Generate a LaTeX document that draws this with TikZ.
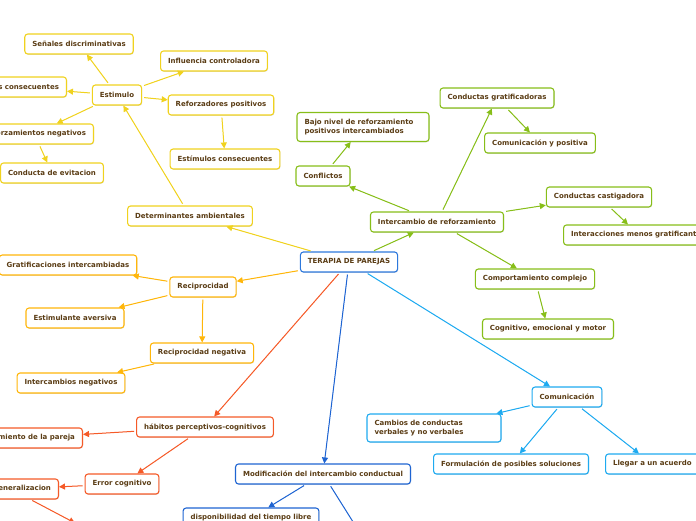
\documentclass[tikz,border=0pt]{standalone}
\usepackage{fontspec}
\setmainfont{DejaVu Sans}
\usetikzlibrary{arrows.meta,shadows}
\definecolor{txt}{RGB}{90,60,20}
\definecolor{yel}{RGB}{240,210,30}
\definecolor{org}{RGB}{255,182,10}
\definecolor{grn}{RGB}{135,190,25}
\definecolor{red}{RGB}{245,90,40}
\definecolor{dblue}{RGB}{30,100,210}
\definecolor{lblue}{RGB}{30,170,240}
\definecolor{rootb}{RGB}{45,120,220}
\tikzset{
  box/.style={draw, rounded corners=3pt, fill=white, line width=1.1pt,
    minimum height=20pt, inner xsep=7.5pt, inner ysep=2pt, text=txt,
    font=\bfseries\fontsize{7}{9}\selectfont,
    drop shadow={shadow xshift=0.6pt, shadow yshift=-0.8pt, opacity=0.25}},
  ybox/.style={box, draw=yel},
  obox/.style={box, draw=org},
  gbox/.style={box, draw=grn},
  rbox/.style={box, draw=red},
  dbox/.style={box, draw=dblue},
  lbox/.style={box, draw=lblue},
  conn/.style={line width=1pt, -{Triangle[length=6pt,width=6pt]}, shorten <=2pt},
  yarr/.style={conn, draw=yel, fill=yel},
  oarr/.style={conn, draw=org, fill=org},
  garr/.style={conn, draw=grn, fill=grn},
  rarr/.style={conn, draw=red, fill=red},
  darr/.style={conn, draw=dblue, fill=dblue},
  larr/.style={conn, draw=lblue, fill=lblue},
}
\begin{document}
\begin{tikzpicture}[x=1pt,y=-1pt]
\useasboundingbox (0,0) rectangle (696,520);
\clip (0,0) rectangle (696,520);
% root
\node[box, draw=rootb] (root) at (349,262) {TERAPIA DE PAREJAS};
% yellow branch
\node[ybox] (det) at (190,216) {Determinantes ambientales};
\node[ybox] (est) at (117,95) {Estimulo};
\node[ybox] (sen) at (79,44) {Señales discriminativas};
\node[ybox] (inf) at (214,61) {Influencia controladora};
\node[ybox, anchor=east] (scons) at (67,87) {Estímulos consecuentes};
\node[ybox] (refpos) at (221,105) {Reforzadores positivos};
\node[ybox, anchor=east] (refneg) at (94,134) {Reforzamientos negativos};
\node[ybox] (cevi) at (52,173) {Conducta de evitacion};
\node[ybox] (estcons) at (225,159) {Estímulos consecuentes};
% green branch
\node[gbox] (interc) at (437,222) {Intercambio de reforzamiento};
\node[gbox] (conf) at (323,176) {Conflictos};
\node[gbox, text width=117pt, align=left, minimum height=29pt] (bajo) at (363,127) {Bajo nivel de reforzamiento\\positivos intercambiados};
\node[gbox] (grat) at (497,98) {Conductas gratificadoras};
\node[gbox] (comp) at (540,143) {Comunicación y positiva};
\node[gbox] (cast) at (599,197) {Conductas castigadora};
\node[gbox, anchor=west] (inter) at (563,235) {Interacciones menos gratificantes};
\node[gbox] (compl) at (535,279) {Comportamiento complejo};
\node[gbox] (cogn) at (548,329) {Cognitivo, emocional y motor};
% orange branch
\node[obox] (recip) at (203,287) {Reciprocidad};
\node[obox] (grati) at (68,265) {Gratificaciones intercambiadas};
\node[obox] (aver) at (75,318) {Estimulante aversiva};
\node[obox] (recneg) at (202,353) {Reciprocidad negativa};
\node[obox] (intneg) at (71,383) {Intercambios negativos};
% red branch
\node[rbox] (hab) at (205,427) {hábitos perceptivos-cognitivos};
\node[rbox, anchor=east] (conoc) at (83,438) {Conocimiento de la pareja};
\node[rbox] (err) at (122,484) {Error cognitivo};
\node[rbox, anchor=east] (gen) at (59,489) {Sobregeneralizacion};
\coordinate (genend) at (75,523);
% dark blue branch
\node[dbox] (mod) at (323,474) {Modificación del intercambio conductual};
\node[dbox] (disp) at (251,518) {disponibilidad del tiempo libre};
\coordinate (modend) at (360,533);
% light blue branch
\node[lbox] (com) at (567,397) {Comunicación};
\node[lbox, text width=119pt, align=left, minimum height=28pt] (camb) at (434,428) {Cambios de conductas\\verbales y no verbales};
\node[lbox] (form) at (511,464) {Formulación de posibles soluciones};
\node[lbox, anchor=west] (lleg) at (605,464) {Llegar a un acuerdo};
% connectors yellow
\draw[yarr] (root) -- (det);
\draw[yarr] (det) -- (est);
\draw[yarr] (est) -- (sen);
\draw[yarr] (est) -- (inf);
\draw[yarr] (est) -- (scons);
\draw[yarr] (est) -- (refpos);
\draw[yarr] (est) -- (refneg);
\draw[yarr] (refneg) -- (cevi);
\draw[yarr] (refpos) -- (estcons);
% green
\draw[garr] (root) -- (interc);
\draw[garr] (interc) -- (conf);
\draw[garr] (conf) -- (bajo);
\draw[garr] (interc) -- (grat);
\draw[garr] (grat) -- (comp);
\draw[garr] (interc) -- (cast);
\draw[garr] (cast) -- (inter.north west -| 628,0);
\draw[garr] (interc) -- (compl);
\draw[garr] (compl) -- (cogn);
% orange
\draw[oarr] (root) -- (recip);
\draw[oarr] (recip) -- (grati);
\draw[oarr] (recip) -- (aver);
\draw[oarr] (recip) -- (recneg);
\draw[oarr] (recneg) -- (intneg);
% red
\draw[rarr] (root) -- (hab);
\draw[rarr] (hab) -- (conoc);
\draw[rarr] (hab) -- (err);
\draw[rarr] (err) -- (gen);
\draw[rarr] (gen) -- (genend);
% dark blue
\draw[darr] (root) -- (mod);
\draw[darr] (mod) -- (disp);
\draw[darr] (mod) -- (modend);
% light blue
\draw[larr] (root) -- (com);
\draw[larr] (com) -- (camb);
\draw[larr] (com) -- (form);
\draw[larr] (com) -- (lleg);
\end{tikzpicture}
\end{document}
